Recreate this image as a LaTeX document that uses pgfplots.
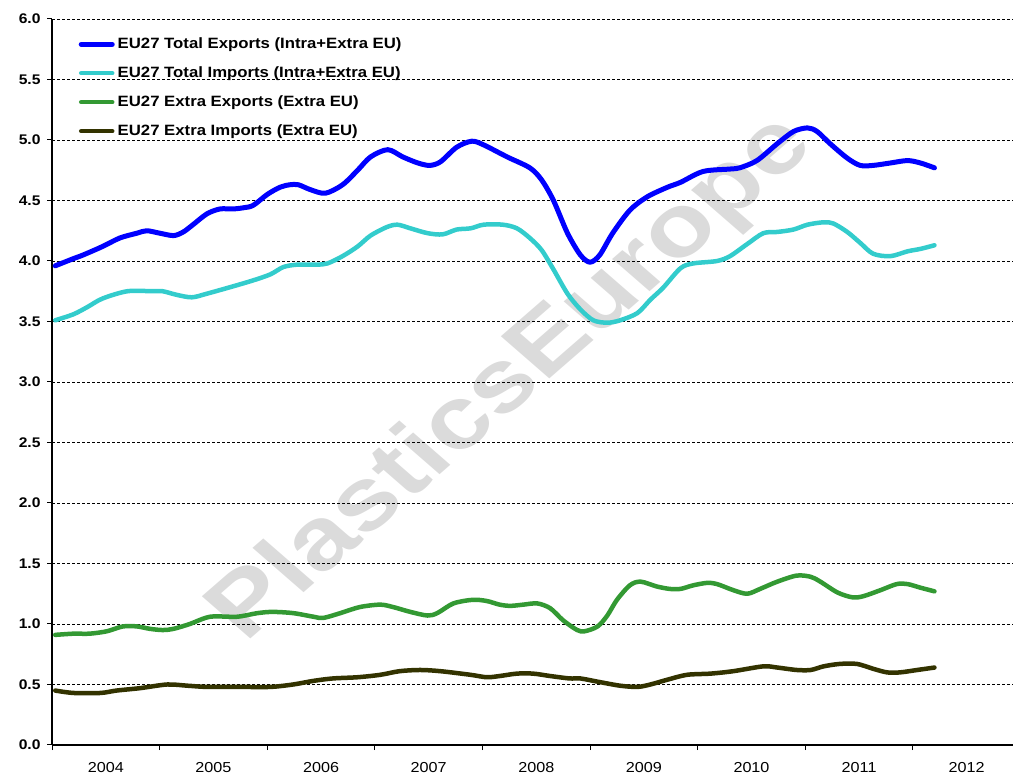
\documentclass[border=0pt]{standalone}
\usepackage{pgfplots}
\pgfplotsset{compat=1.18}
\usepackage{fontspec}
\setmainfont{Liberation Sans}[FakeStretch=1.12]
\definecolor{cBlue}{HTML}{0000FF}
\definecolor{cCyan}{HTML}{33CCCC}
\definecolor{cGreen}{HTML}{339933}
\definecolor{cDark}{HTML}{333300}
\begin{document}
\begin{tikzpicture}
\path[use as bounding box] (-52bp,-30bp) rectangle (961bp,745bp);
\begin{axis}[
  at={(0,0)}, anchor=south west,
  scale only axis, width=961bp, height=726bp,
  xmin=2004, xmax=2012.93, ymin=0, ymax=6,
  axis x line=bottom, axis y line=left,
  x axis line style={-, line width=1.2bp},
  y axis line style={-, line width=1.2bp},
  xtick={2004,2005,2006,2007,2008,2009,2010,2011,2012}, xticklabels={,,,,,,,,},
  extra x ticks={2004.5,2005.5,2006.5,2007.5,2008.5,2009.5,2010.5,2011.5,2012.5},
  extra x tick labels={2004,2005,2006,2007,2008,2009,2010,2011,2012},
  extra x tick style={major tick length=0pt, grid=none,
     xticklabel style={font=\fontsize{14.5}{14.5}\selectfont, yshift=-14bp}},
  ytick={0,0.5,...,6},
  tick align=outside, major tick length=5bp,
  tick style={black, line width=1bp},
  ymajorgrids,
  major grid style={black, line width=0.8bp, dash pattern=on 3bp off 2bp},
  yticklabel style={font=\fontsize{14}{14}\selectfont\bfseries, xshift=-3bp,
     /pgf/number format/.cd, fixed, fixed zerofill, precision=1, assume math mode=true},
  legend style={draw=none, fill=none, at={(axis description cs:0.0245,0.978)}, anchor=north west,
     font=\fontsize{15}{15}\selectfont\bfseries,
     nodes={inner sep=0pt, text height=11bp, text depth=3bp},
     row sep=15bp, column sep=3bp},
  legend cell align=left,
  legend image code/.code={\draw[#1, line cap=round] (0bp,0bp) -- (31bp,0bp);},
  every axis plot/.append style={line cap=round, line join=round, smooth, tension=0.5, mark=none},
]
\node[xscale=1.15, rotate=45, font=\fontsize{87}{87}\selectfont\bfseries, text=black, text opacity=0.14] at (axis cs:2008.28,3.02) {PlasticsEurope};
\addplot[cBlue, line width=5bp] coordinates {
(2004.03,3.96)(2004.20,4.02)(2004.29,4.05)(2004.47,4.12)(2004.63,4.19)(2004.79,4.23)(2004.88,4.25)(2005.00,4.23)(2005.13,4.21)(2005.22,4.24)(2005.31,4.30)(2005.44,4.39)(2005.56,4.43)(2005.68,4.43)(2005.78,4.44)(2005.87,4.46)(2006.00,4.55)(2006.12,4.61)(2006.21,4.63)(2006.29,4.63)(2006.40,4.59)(2006.54,4.56)(2006.70,4.63)(2006.84,4.75)(2006.96,4.86)(2007.12,4.92)(2007.26,4.86)(2007.40,4.81)(2007.51,4.79)(2007.61,4.82)(2007.76,4.94)(2007.90,4.99)(2008.01,4.96)(2008.23,4.86)(2008.44,4.77)(2008.55,4.67)(2008.66,4.50)(2008.79,4.23)(2008.91,4.05)(2009.00,3.99)(2009.09,4.05)(2009.21,4.23)(2009.37,4.42)(2009.53,4.53)(2009.72,4.61)(2009.84,4.65)(2010.05,4.74)(2010.30,4.76)(2010.39,4.77)(2010.55,4.83)(2010.74,4.97)(2010.89,5.07)(2011.02,5.10)(2011.11,5.07)(2011.23,4.97)(2011.39,4.85)(2011.51,4.79)(2011.63,4.79)(2011.79,4.81)(2011.95,4.83)(2012.07,4.81)(2012.20,4.77)
};
\addlegendentry{EU27 Total Exports (Intra+Extra EU)}
\addplot[cCyan, line width=4.5bp] coordinates {
(2004.03,3.51)(2004.20,3.56)(2004.33,3.62)(2004.47,3.69)(2004.70,3.75)(2004.94,3.75)(2005.03,3.75)(2005.16,3.72)(2005.30,3.70)(2005.44,3.73)(2005.68,3.79)(2005.87,3.84)(2006.03,3.89)(2006.15,3.95)(2006.28,3.97)(2006.46,3.97)(2006.56,3.98)(2006.70,4.04)(2006.84,4.12)(2006.96,4.21)(2007.11,4.28)(2007.21,4.30)(2007.33,4.27)(2007.49,4.23)(2007.63,4.22)(2007.76,4.26)(2007.89,4.27)(2008.01,4.30)(2008.19,4.30)(2008.32,4.27)(2008.44,4.19)(2008.55,4.09)(2008.66,3.93)(2008.79,3.73)(2008.91,3.60)(2009.03,3.51)(2009.16,3.49)(2009.28,3.51)(2009.44,3.57)(2009.56,3.68)(2009.68,3.78)(2009.84,3.94)(2009.96,3.98)(2010.18,4.00)(2010.30,4.04)(2010.46,4.14)(2010.61,4.23)(2010.74,4.24)(2010.89,4.26)(2011.02,4.30)(2011.17,4.32)(2011.26,4.31)(2011.39,4.24)(2011.51,4.15)(2011.63,4.06)(2011.79,4.04)(2011.95,4.08)(2012.07,4.10)(2012.20,4.13)
};
\addlegendentry{EU27 Total Imports (Intra+Extra EU)}
\addplot[cGreen, line width=4.5bp] coordinates {
(2004.03,0.91)(2004.20,0.92)(2004.35,0.92)(2004.51,0.94)(2004.66,0.98)(2004.79,0.98)(2004.91,0.96)(2005.03,0.95)(2005.13,0.96)(2005.28,1.00)(2005.47,1.06)(2005.72,1.06)(2005.91,1.09)(2006.05,1.10)(2006.24,1.09)(2006.43,1.06)(2006.52,1.05)(2006.68,1.09)(2006.86,1.14)(2007.05,1.16)(2007.17,1.14)(2007.33,1.10)(2007.49,1.07)(2007.58,1.09)(2007.73,1.17)(2007.91,1.20)(2008.04,1.19)(2008.16,1.16)(2008.26,1.15)(2008.38,1.16)(2008.51,1.17)(2008.63,1.13)(2008.75,1.03)(2008.88,0.95)(2008.95,0.94)(2009.07,0.98)(2009.16,1.07)(2009.25,1.20)(2009.37,1.32)(2009.47,1.35)(2009.62,1.31)(2009.74,1.29)(2009.84,1.29)(2009.96,1.32)(2010.09,1.34)(2010.18,1.33)(2010.33,1.28)(2010.46,1.25)(2010.58,1.29)(2010.74,1.35)(2010.92,1.40)(2011.05,1.39)(2011.14,1.35)(2011.30,1.26)(2011.44,1.22)(2011.54,1.23)(2011.70,1.28)(2011.85,1.33)(2011.95,1.33)(2012.07,1.30)(2012.20,1.27)
};
\addlegendentry{EU27 Extra Exports (Extra EU)}
\addplot[cDark, line width=4.5bp] coordinates {
(2004.03,0.45)(2004.20,0.43)(2004.45,0.43)(2004.60,0.45)(2004.82,0.47)(2005.07,0.50)(2005.26,0.49)(2005.44,0.48)(2005.75,0.48)(2006.03,0.48)(2006.24,0.50)(2006.43,0.53)(2006.61,0.55)(2006.84,0.56)(2007.05,0.58)(2007.23,0.61)(2007.42,0.62)(2007.61,0.61)(2007.89,0.58)(2008.04,0.56)(2008.16,0.57)(2008.32,0.59)(2008.47,0.59)(2008.63,0.57)(2008.81,0.55)(2008.91,0.55)(2009.09,0.52)(2009.28,0.49)(2009.44,0.48)(2009.56,0.50)(2009.72,0.54)(2009.90,0.58)(2010.12,0.59)(2010.33,0.61)(2010.61,0.65)(2010.74,0.64)(2010.92,0.62)(2011.05,0.62)(2011.17,0.65)(2011.32,0.67)(2011.48,0.67)(2011.63,0.63)(2011.76,0.60)(2011.88,0.60)(2012.04,0.62)(2012.20,0.64)
};
\addlegendentry{EU27 Extra Imports (Extra EU)}
\end{axis}
\end{tikzpicture}
\end{document}
